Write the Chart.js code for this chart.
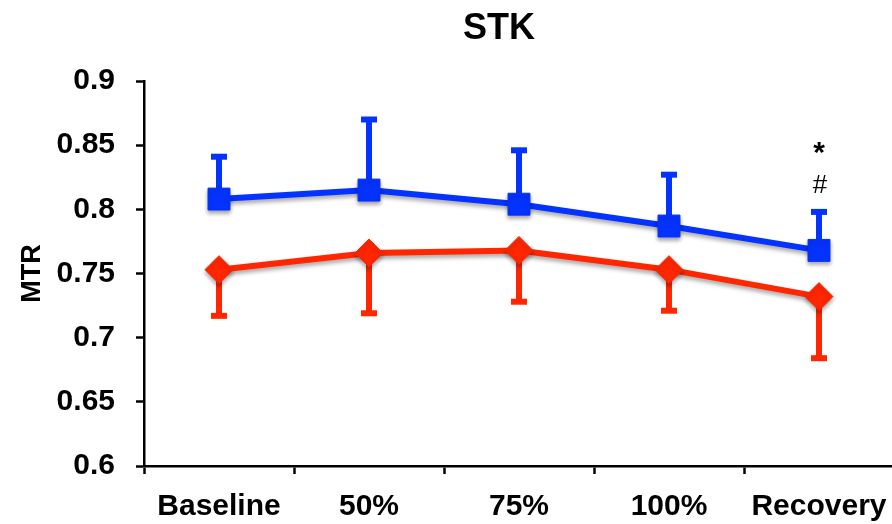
<!DOCTYPE html>
<html>
<head>
<meta charset="utf-8">
<script src="https://cdn.jsdelivr.net/npm/chart.js@4"></script>
<style>
  html, body { margin: 0; padding: 0; background: #fff; overflow: hidden; }
  #wrap { position: relative; width: 895px; height: 524px; }
</style>
</head>
<body>
<div id="wrap"><canvas id="mtr-chart"></canvas></div>
<script>
// data
var categories = ["Baseline", "50%", "75%", "100%", "Recovery"];
var blueMean = [0.808, 0.815, 0.804, 0.787, 0.768];
var blueUpper = [0.841, 0.870, 0.846, 0.827, 0.798];
var redMean = [0.753, 0.766, 0.768, 0.753, 0.732];
var redLower = [0.717, 0.719, 0.728, 0.721, 0.684];
var yTicks = [0.6, 0.65, 0.7, 0.75, 0.8, 0.85, 0.9];
var marks = ["*", "#"]; // above Recovery, blue series

var BLUE = "#0433ff";
var RED = "#ff2600";
var FONT = "'Liberation Sans', Arial, sans-serif";

// error bars: blue only upward, red only downward
var errorBars = {
  id: "errorBars",
  beforeDatasetsDraw: function (chart) {
    var ctx = chart.ctx;
    var x = chart.scales.x, y = chart.scales.y;
    function bar(means, ends, color) {
      ctx.save();
      ctx.strokeStyle = color;
      ctx.lineCap = "butt";
      ctx.lineWidth = 6;
      means.forEach(function (m, i) {
        var px = x.getPixelForValue(i);
        var y0 = y.getPixelForValue(m);
        var y1 = y.getPixelForValue(ends[i]);
        ctx.beginPath();
        ctx.moveTo(px, y0);
        ctx.lineTo(px, y1);
        ctx.stroke();
        ctx.beginPath();
        ctx.moveTo(px - 8, y1);
        ctx.lineTo(px + 8, y1);
        ctx.stroke();
      });
      ctx.restore();
    }
    bar(blueMean, blueUpper, BLUE);
    bar(redMean, redLower, RED);
  }
};

// soft shadow under lines and markers
var shadow = {
  id: "shadow",
  beforeDatasetDraw: function (chart) {
    var ctx = chart.ctx;
    ctx.save();
    ctx.shadowColor = "rgba(0,0,0,0.35)";
    ctx.shadowBlur = 4;
    ctx.shadowOffsetY = 3;
  },
  afterDatasetDraw: function (chart) {
    chart.ctx.restore();
  }
};

// title and significance marks
var extras = {
  id: "extras",
  afterDraw: function (chart) {
    var ctx = chart.ctx;
    var x = chart.scales.x, y = chart.scales.y;
    ctx.save();
    ctx.fillStyle = "#000";
    ctx.textAlign = "center";
    ctx.textBaseline = "middle";
    ctx.font = "bold 36px " + FONT;
    ctx.fillText("STK", 499, 29);
    var last = blueUpper.length - 1;
    var px = x.getPixelForValue(last);
    var top = y.getPixelForValue(blueUpper[last]);
    ctx.font = "bold 30px " + FONT;
    ctx.fillText(marks[0], px, top - 58);
    ctx.font = "26px " + FONT;
    ctx.fillText(marks[1], px + 1, top - 26);
    ctx.restore();
  }
};

var ctx = document.getElementById("mtr-chart").getContext("2d");
var chart = new Chart(ctx, {
  type: "line",
  data: {
    labels: categories,
    datasets: [
      {
        label: "blue",
        data: blueMean,
        borderColor: BLUE,
        backgroundColor: BLUE,
        borderWidth: 6,
        pointStyle: "rect",
        pointRadius: 15.5,
        pointBorderWidth: 1,
        tension: 0,
        fill: false,
        clip: false
      },
      {
        label: "red",
        data: redMean,
        borderColor: RED,
        backgroundColor: RED,
        borderWidth: 6,
        pointStyle: "rectRot",
        pointRadius: 14,
        pointBorderWidth: 1,
        tension: 0,
        fill: false,
        clip: false
      }
    ]
  },
  options: {
    responsive: true,
    maintainAspectRatio: false,
    animation: false,
    layout: { autoPadding: false, padding: { top: 81, left: 10, right: 1, bottom: 0 } },
    plugins: {
      legend: { display: false },
      title: { display: false },
      tooltip: { enabled: false }
    },
    scales: {
      x: {
        offset: true,
        afterFit: function (scale) {
          scale.paddingLeft = 0;
          scale.paddingRight = 0;
          scale.height = 58;
        },
        grid: {
          offset: true,
          drawOnChartArea: false,
          drawTicks: true,
          tickLength: 8,
          tickWidth: 2.5,
          tickColor: "#000"
        },
        border: { color: "#000", width: 2.5 },
        ticks: {
          color: "#000",
          padding: 18,
          maxRotation: 0,
          autoSkip: false,
          font: { family: FONT, size: 30, weight: "bold", lineHeight: 1 }
        }
      },
      y: {
        min: yTicks[0],
        max: yTicks[yTicks.length - 1],
        afterBuildTicks: function (scale) {
          scale.ticks = yTicks.map(function (v) { return { value: v }; });
        },
        afterFit: function (scale) {
          scale.width = 134;
        },
        grid: {
          drawOnChartArea: false,
          drawTicks: true,
          tickLength: 8,
          tickWidth: 2.5,
          tickColor: "#000"
        },
        border: { color: "#000", width: 2.5 },
        ticks: {
          color: "#000",
          padding: 21,
          font: { family: FONT, size: 30, weight: "bold" },
          callback: function (v) { return String(+(+v).toFixed(2)); }
        },
        title: {
          display: true,
          text: "MTR",
          color: "#000",
          padding: { top: 6, bottom: 8 },
          font: { family: FONT, size: 27, weight: "bold" }
        }
      }
    }
  },
  plugins: [errorBars, shadow, extras]
});
</script>
</body>
</html>
